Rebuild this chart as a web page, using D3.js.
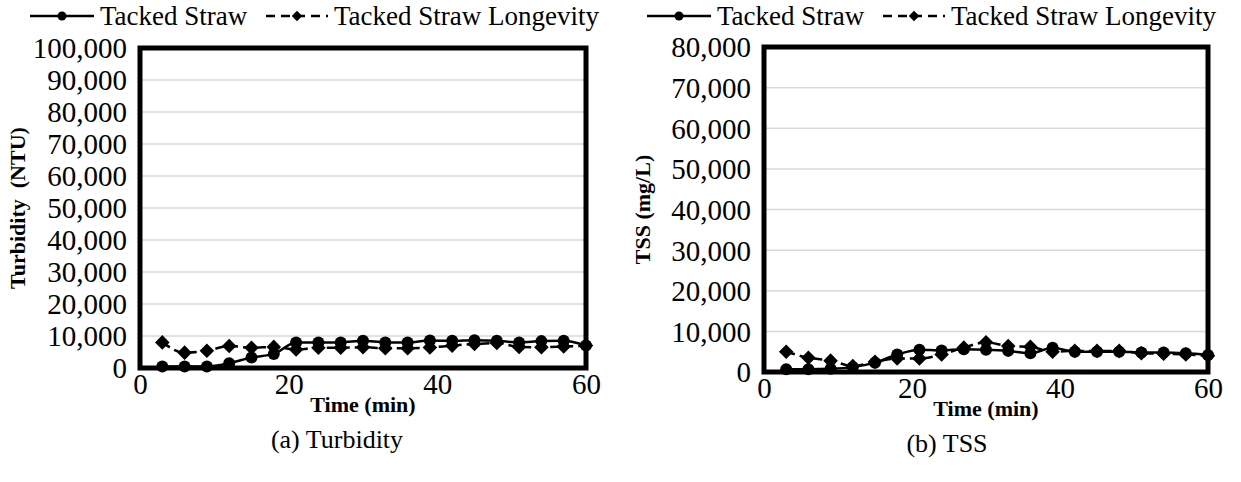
<!DOCTYPE html>
<html>
<head>
<meta charset="utf-8">
<script src="https://cdn.jsdelivr.net/npm/d3@7"></script>
<style>
  html, body { margin: 0; padding: 0; background: #fff; }
  svg text { font-family: "Liberation Serif", "DejaVu Serif", "Times New Roman", serif; fill: #000; }
</style>
</head>
<body>
<svg id="chart" width="1241" height="482"></svg>
<script>
// Sampling times (min)
const times = [3, 6, 9, 12, 15, 18, 21, 24, 27, 30, 33, 36, 39, 42, 45, 48, 51, 54, 57, 60];

// Turbidity (NTU)
const turbStraw     = [500, 500, 500, 1500, 3300, 4400, 8000, 8000, 8000, 8500, 8000, 8000, 8600, 8500, 8700, 8500, 8000, 8400, 8500, 7000];
const turbLongevity = [8000, 4800, 5400, 6900, 6300, 6600, 5800, 6300, 6300, 6500, 6200, 6200, 6400, 7000, 7500, 7800, 6600, 6500, 6700, 7000];

// TSS (mg/L)
const tssStraw     = [700, 700, 800, 1200, 2300, 4300, 5500, 5300, 5600, 5500, 5200, 4600, 6000, 5000, 5000, 5000, 4800, 4800, 4600, 4200];
const tssLongevity = [5000, 3500, 2800, 1500, 2500, 3300, 3300, 4300, 6000, 7300, 6400, 6200, 5000, 5200, 5200, 5200, 4600, 4500, 4300, 4000];

const xTicks = [0, 20, 40, 60];
const turbTicks = d3.range(0, 100001, 10000);
const tssTicks = d3.range(0, 80001, 10000);

const seriesNames = ["Tacked Straw", "Tacked Straw Longevity"];

const FONT = '"Liberation Serif", "DejaVu Serif", "Times New Roman", serif';
const svg = d3.select("#chart");
const fmt = d3.format(",");

function drawPanel(opt) {
  const g = svg.append("g");
  const x = d3.scaleLinear().domain([0, 60]).range([opt.left, opt.right]);
  const y = d3.scaleLinear().domain([0, opt.yMax]).range([opt.bottom, opt.top]);

  // gridlines
  g.selectAll("line.grid").data(opt.yTicks.slice(1, -1)).join("line")
    .attr("x1", opt.left).attr("x2", opt.right)
    .attr("y1", d => y(d)).attr("y2", d => y(d))
    .attr("stroke", "#d9d9d9").attr("stroke-width", 1.5);

  // y axis labels
  const yAxis = d3.axisLeft(y).tickValues(opt.yTicks).tickFormat(fmt).tickSize(0).tickPadding(13);
  const ya = g.append("g").attr("transform", `translate(${opt.left},0)`).call(yAxis);
  ya.attr("font-family", FONT).attr("font-size", 29);
  ya.select(".domain").remove();
  ya.selectAll("text").attr("dy", "0.34em");

  // x axis labels
  const xAxis = d3.axisBottom(x).tickValues(xTicks).tickSize(0).tickPadding(5);
  const xa = g.append("g").attr("transform", `translate(0,${opt.bottom})`).call(xAxis);
  xa.attr("font-family", FONT).attr("font-size", 29);
  xa.select(".domain").remove();

  // series lines
  const line = d3.line().x((d, i) => x(times[i])).y(d => y(d)).curve(d3.curveMonotoneX);
  g.append("path").datum(opt.a).attr("d", line)
    .attr("fill", "none").attr("stroke", "#000").attr("stroke-width", 2.5);
  g.append("path").datum(opt.b).attr("d", line)
    .attr("fill", "none").attr("stroke", "#000").attr("stroke-width", 2.5)
    .attr("stroke-dasharray", "9,5");

  // markers
  g.selectAll("circle.m").data(opt.a).join("circle")
    .attr("cx", (d, i) => x(times[i])).attr("cy", d => y(d)).attr("r", 6).attr("fill", "#000");
  const diamond = d3.symbol().type(d3.symbolDiamond2).size(135);
  g.selectAll("path.m").data(opt.b).join("path")
    .attr("d", diamond)
    .attr("transform", (d, i) => `translate(${x(times[i])},${y(d)})`)
    .attr("fill", "#000");

  // frame
  g.append("rect").attr("x", opt.left).attr("y", opt.top)
    .attr("width", opt.right - opt.left).attr("height", opt.bottom - opt.top)
    .attr("fill", "none").attr("stroke", "#000").attr("stroke-width", 5);

  // axis titles
  const cx = (opt.left + opt.right) / 2;
  g.append("text").attr("x", cx).attr("y", opt.bottom + 44)
    .attr("text-anchor", "middle").attr("font-size", 22).attr("font-weight", "bold")
    .attr("font-family", FONT)
    .text("Time (min)");
  g.append("text")
    .attr("transform", `translate(${opt.yTitleX},${(opt.top + opt.bottom) / 2}) rotate(-90)`)
    .attr("text-anchor", "middle").attr("font-size", 22).attr("font-weight", "bold")
    .attr("font-family", FONT)
    .style("white-space", "pre")
    .text(opt.yTitle);
  g.append("text").attr("x", opt.captionX).attr("y", opt.bottom + 80)
    .attr("text-anchor", "middle").attr("font-size", 26)
    .attr("font-family", FONT)
    .text(opt.caption);

  // legend
  const lg = g.append("g").attr("transform", `translate(${opt.legendX},16)`)
    .attr("font-family", FONT).attr("font-size", 27);
  lg.append("line").attr("x1", 0).attr("x2", 64).attr("y1", 0).attr("y2", 0)
    .attr("stroke", "#000").attr("stroke-width", 2.5);
  lg.append("circle").attr("cx", 32).attr("cy", 0).attr("r", 4.5).attr("fill", "#000");
  lg.append("text").attr("x", 70).attr("y", 9).text(seriesNames[0]);
  lg.append("line").attr("x1", 236).attr("x2", 298).attr("y1", 0).attr("y2", 0)
    .attr("stroke", "#000").attr("stroke-width", 2.5).attr("stroke-dasharray", "9,6");
  lg.append("path").attr("d", d3.symbol().type(d3.symbolDiamond2).size(70))
    .attr("transform", "translate(267,0)").attr("fill", "#000");
  lg.append("text").attr("x", 304).attr("y", 9).text(seriesNames[1]);
}

drawPanel({
  left: 140, right: 586, top: 48, bottom: 368, yMax: 100000, yTicks: turbTicks,
  a: turbStraw, b: turbLongevity, yTitle: "Turbidity  (NTU)", yTitleX: 25,
  caption: "(a) Turbidity", captionX: 337, legendX: 30
});
drawPanel({
  left: 764, right: 1208, top: 47, bottom: 372, yMax: 80000, yTicks: tssTicks,
  a: tssStraw, b: tssLongevity, yTitle: "TSS (mg/L)", yTitleX: 650,
  caption: "(b) TSS", captionX: 947, legendX: 647
});
</script>
</body>
</html>
